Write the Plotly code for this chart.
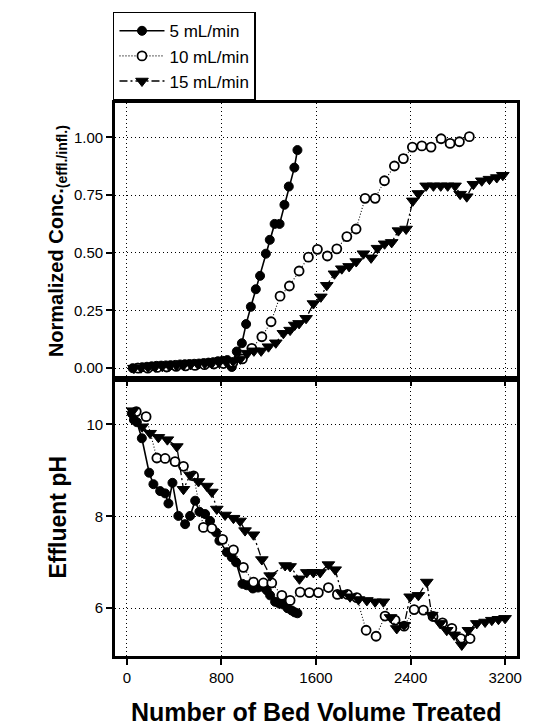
import plotly.graph_objects as go

# ---------------- data ----------------
# Normalized concentration (effluent / influent) vs bed volumes
bv_conc_5 = [50, 90, 130, 170, 210, 250, 290, 330, 370, 410, 450, 490, 530, 570, 610, 650, 690, 730, 770,
             810, 850, 888, 930, 973, 1009, 1049, 1091, 1127, 1176, 1209, 1250, 1292, 1333, 1370, 1417, 1443]
conc_5 = [0.000, 0.002, 0.004, 0.006, 0.008, 0.010, 0.011, 0.012, 0.013, 0.014, 0.016, 0.017, 0.018, 0.019,
          0.020, 0.022, 0.024, 0.026, 0.030, 0.032, 0.035, 0.005, 0.072, 0.108, 0.191, 0.266, 0.342, 0.400,
          0.496, 0.556, 0.625, 0.625, 0.708, 0.787, 0.869, 0.945]

bv_conc_10 = [97, 177, 257, 337, 417, 497, 577, 657, 737, 817, 897, 977, 1057, 1142, 1220, 1296, 1375, 1457,
              1536, 1612, 1696, 1776, 1861, 1939, 2015, 2100, 2179, 2263, 2339, 2415, 2495, 2573, 2658, 2734,
              2813, 2897]
conc_10 = [0.000, 0.000, 0.003, 0.005, 0.008, 0.010, 0.012, 0.015, 0.018, 0.020, 0.025, 0.040, 0.086, 0.136,
           0.201, 0.312, 0.356, 0.421, 0.481, 0.515, 0.486, 0.517, 0.570, 0.603, 0.736, 0.736, 0.812, 0.876,
           0.908, 0.958, 0.963, 0.958, 0.994, 0.974, 0.981, 1.003]

bv_conc_15 = [60, 120, 180, 240, 300, 360, 420, 480, 540, 600, 660, 720, 780, 840, 900, 960, 1020, 1075, 1136,
              1198, 1260, 1324, 1381, 1420, 1457, 1516, 1578, 1641, 1691, 1756, 1818, 1880, 1940, 2001, 2066,
              2120, 2180, 2240, 2297, 2362, 2419, 2466, 2531, 2593, 2655, 2714, 2776, 2819, 2875, 2931, 3002,
              3067, 3129, 3180]
conc_15 = [0.000, 0.002, 0.004, 0.006, 0.008, 0.010, 0.012, 0.014, 0.016, 0.018, 0.020, 0.022, 0.025, 0.028,
           0.030, 0.040, 0.065, 0.075, 0.075, 0.093, 0.110, 0.151, 0.165, 0.187, 0.194, 0.216, 0.280, 0.309,
           0.359, 0.409, 0.431, 0.441, 0.462, 0.496, 0.478, 0.520, 0.539, 0.545, 0.596, 0.603, 0.725, 0.757,
           0.790, 0.790, 0.790, 0.790, 0.790, 0.754, 0.743, 0.797, 0.812, 0.819, 0.826, 0.836]

# Effluent pH vs bed volumes
bv_ph_5 = [42, 60, 85, 127, 189, 225, 282, 324, 352, 386, 436, 493, 535, 578, 614, 662, 704, 755, 783, 846,
           888, 924, 978, 1015, 1066, 1110, 1155, 1184, 1212, 1254, 1290, 1324, 1360, 1395, 1420, 1443]
ph_5 = [10.24, 10.10, 10.05, 9.70, 8.95, 8.70, 8.55, 8.50, 8.28, 8.73, 8.01, 7.83, 8.01, 8.34, 8.10, 8.05,
        7.90, 7.65, 7.47, 7.22, 7.11, 7.00, 6.53, 6.50, 6.43, 6.45, 6.46, 6.39, 6.28, 6.14, 6.10, 6.08, 6.00,
        5.95, 5.91, 5.89]

bv_ph_10 = [80, 163, 254, 324, 408, 479, 565, 648, 719, 810, 902, 986, 1071, 1155, 1226, 1311, 1381, 1466,
            1544, 1620, 1705, 1781, 1866, 1945, 2024, 2108, 2184, 2269, 2345, 2430, 2508, 2590, 2670, 2749,
            2825, 2903]
ph_10 = [10.28, 10.17, 9.27, 9.26, 9.19, 9.09, 8.88, 7.76, 7.74, 7.50, 7.27, 6.89, 6.57, 6.55, 6.55, 6.28,
         6.17, 6.35, 6.34, 6.34, 6.45, 6.30, 6.30, 6.23, 5.52, 5.39, 5.83, 5.74, 5.61, 5.97, 5.96, 5.82, 5.68,
         5.56, 5.34, 5.34]

bv_ph_15 = [50, 130, 197, 267, 343, 423, 479, 535, 606, 677, 719, 761, 831, 902, 958, 1000, 1071, 1142, 1212,
            1339, 1381, 1460, 1522, 1578, 1635, 1705, 1762, 1818, 1888, 1959, 2030, 2100, 2170, 2230, 2283,
            2345, 2396, 2466, 2537, 2579, 2650, 2706, 2768, 2833, 2889, 2960, 3030, 3087, 3143, 3199]
ph_15 = [10.30, 9.95, 9.81, 9.72, 9.67, 9.52, 8.59, 8.90, 8.76, 8.66, 8.53, 8.16, 8.03, 7.96, 7.90, 7.69,
         7.60, 7.06, 6.71, 6.93, 6.91, 6.64, 6.78, 6.78, 6.78, 6.95, 6.84, 6.32, 6.25, 6.19, 6.17, 6.14, 6.14,
         5.80, 5.56, 5.63, 6.25, 6.28, 6.57, 5.85, 5.67, 5.52, 5.42, 5.20, 5.52, 5.67, 5.70, 5.74, 5.76, 5.78]

series_names = ["5 mL/min", "10 mL/min", "15 mL/min"]
x_ticks = [0, 800, 1600, 2400, 3200]
conc_ticks = [0.00, 0.25, 0.50, 0.75, 1.00]
ph_ticks = [6, 8, 10]

# ---------------- styles ----------------
FONT = "Liberation Sans, Arial, sans-serif"
styles = [
    dict(line=dict(color="black", width=1.6, dash="solid"),
         marker=dict(symbol="circle", size=9, color="black", line=dict(color="black", width=1))),
    dict(line=dict(color="black", width=1.1, dash="1px,2px"),
         marker=dict(symbol="circle", size=9, color="white", line=dict(color="black", width=1.8))),
    dict(line=dict(color="black", width=1.3, dash="8px,3px,2px,3px"),
         marker=dict(symbol="triangle-down", size=11, color="black", line=dict(color="black", width=1))),
]

fig = go.Figure()
conc_data = [(bv_conc_5, conc_5), (bv_conc_10, conc_10), (bv_conc_15, conc_15)]
ph_data = [(bv_ph_5, ph_5), (bv_ph_10, ph_10), (bv_ph_15, ph_15)]

for name, (xs, ys), st in zip(series_names, conc_data, styles):
    fig.add_trace(go.Scatter(x=xs, y=ys, name=name, mode="lines+markers", xaxis="x2", yaxis="y2",
                             line=st["line"], marker=st["marker"], showlegend=True))
for name, (xs, ys), st in zip(series_names, ph_data, styles):
    fig.add_trace(go.Scatter(x=xs, y=ys, name=name, mode="lines+markers", xaxis="x", yaxis="y",
                             line=st["line"], marker=st["marker"], showlegend=False))

split = 0.5009
axis_common = dict(showline=True, linecolor="black", linewidth=2.8, mirror=True,
                   showgrid=True, gridcolor="black", gridwidth=1, griddash="1px,3px",
                   zeroline=False, ticks="outside", tickwidth=1.5, tickcolor="black",
                   tickfont=dict(family=FONT, size=15, color="black"))

fig.update_layout(
    width=534, height=725,
    margin=dict(l=115, r=17, t=99, b=69),
    paper_bgcolor="white", plot_bgcolor="white",
    font=dict(family=FONT, color="black"),
    xaxis=dict(domain=[0, 1], anchor="y", range=[-100, 3300], tickvals=x_ticks, ticklen=6, **axis_common),
    xaxis2=dict(domain=[0, 1], anchor="y2", range=[-100, 3300], tickvals=x_ticks, matches="x",
                showticklabels=False, ticklen=4, **axis_common),
    yaxis=dict(domain=[0, split], anchor="x", range=[4.96, 10.99], tickvals=ph_ticks, ticklen=6,
               **axis_common),
    yaxis2=dict(domain=[split, 1], anchor="x2", range=[-0.047, 1.149], tickvals=conc_ticks,
                tickformat=".2f", ticklen=6, **axis_common),
    legend=dict(x=-0.005, y=1.165, xanchor="left", yanchor="top",
                bordercolor="black", borderwidth=1.5, bgcolor="white",
                font=dict(family=FONT, size=17, color="black"),
                itemwidth=45, tracegroupgap=0),
    showlegend=True,
)

fig.add_annotation(text="<b>Normalized Conc.<sub>(effl./infl.)</sub></b>", xref="paper", yref="paper",
                   x=-0.144, y=(split + 1) / 2, textangle=-90, showarrow=False,
                   xanchor="center", yanchor="middle",
                   font=dict(family=FONT, size=20, color="black"))
fig.add_annotation(text="<b>Effluent pH</b>", xref="paper", yref="paper",
                   x=-0.144, y=split / 2, textangle=-90, showarrow=False,
                   xanchor="center", yanchor="middle",
                   font=dict(family=FONT, size=23, color="black"))
fig.add_annotation(text="<b>Number of Bed Volume Treated</b>", xref="paper", yref="paper",
                   x=0.5, y=-0.102, showarrow=False, xanchor="center", yanchor="middle",
                   font=dict(family=FONT, size=25, color="black"))

fig.write_html("out.html")
